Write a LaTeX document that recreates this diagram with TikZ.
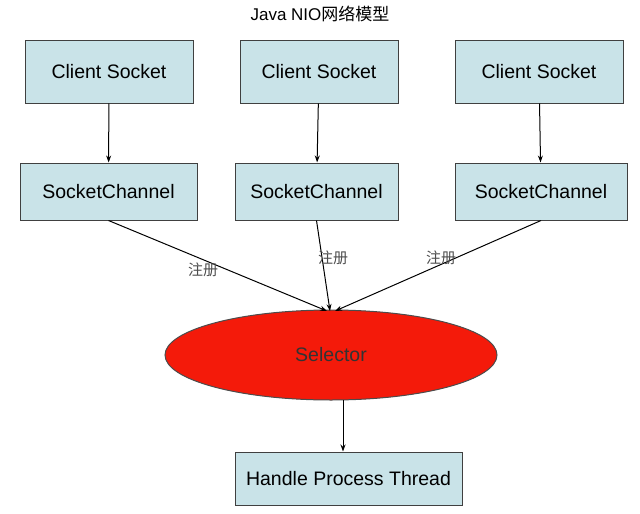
\documentclass[tikz,border=0pt]{standalone}
\usepackage{fontspec}
\setmainfont{Liberation Sans}
\newfontfamily\cjk{Noto Sans CJK SC}
\usetikzlibrary{arrows.meta,shapes.geometric}
\definecolor{boxfill}{HTML}{C9E3E8}
\definecolor{selred}{HTML}{F41A0A}
\begin{document}
\begin{tikzpicture}[x=1pt,y=-1pt,>={Stealth[length=7pt,width=5pt]},
                    line width=1pt,
                    box/.style={draw=black!75,fill=boxfill,inner sep=0pt,font=\fontsize{19.5}{22}\selectfont},
                    reg/.style={font=\cjk\fontsize{15}{17}\selectfont,text=black!70}]
      \useasboundingbox (0,0) rectangle (640,514);
      \node (T) at (320,14) {\fontsize{17}{19}\selectfont Java NIO\cjk 网络模型};
      \node[box,minimum width=168pt,minimum height=63pt](C1) at (109,71.5) {Client Socket};
      \node[box,minimum width=158pt,minimum height=63pt](C2) at (319,71.5) {Client Socket};
      \node[box,minimum width=168pt,minimum height=63pt](C3) at (539,71.5) {Client Socket};
      \node[box,minimum width=177pt,minimum height=57pt](S1) at (108.5,191.5) {SocketChannel};
      \node[box,minimum width=163pt,minimum height=57pt](S2) at (316.5,191.5) {SocketChannel};
      \node[box,minimum width=172pt,minimum height=57pt](S3) at (541,191.5) {SocketChannel};
      \node[ellipse,draw=black!70,fill=selred,minimum width=332pt,minimum height=90pt,
            inner sep=0pt,font=\fontsize{19.5}{22}\selectfont,text=black!80](Sel) at (331,355) {Selector};
      \node[box,minimum width=227pt,minimum height=53pt](H) at (348.5,478.5) {Handle Process Thread};
      \coordinate (P1) at (327,311);
      \coordinate (P2) at (330,311);
      \coordinate (P3) at (335,311);
      \coordinate (Q) at (343,400);
      \draw[->] (C1) -- (S1);
      \draw[->] (C2) -- (S2);
      \draw[->] (C3) -- (S3);
      \draw[->] (S1.south) -- (P1);
      \draw[->] (S2.south) -- (P2);
      \draw[->] (S3.south) -- (P3);
      \draw[->] (Q) -- (Q |- H.north);
      \node[reg](R1) at (203,270) {注册};
      \node[reg](R2) at (333,258) {注册};
      \node[reg](R3) at (441,258) {注册};
 \end{tikzpicture}
\end{document}
